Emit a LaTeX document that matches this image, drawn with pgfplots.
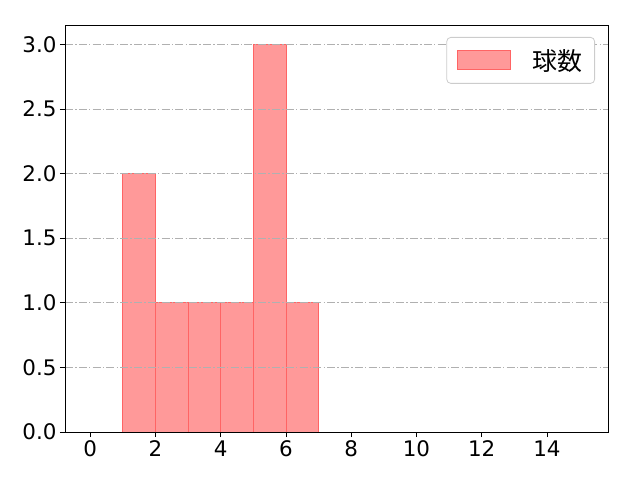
\documentclass[border=0pt]{standalone}
\usepackage{fontspec}
\setmainfont{Noto Sans CJK JP}
\newfontfamily\tickfont{DejaVu Sans}
\usepackage{pgfplots}
\pgfplotsset{compat=1.18}

\definecolor{barfill}{RGB}{255,153,153}
\definecolor{baredge}{RGB}{255,100,100}
\definecolor{gridgray}{RGB}{176,176,176}
\definecolor{legedge}{RGB}{204,204,204}

\begin{document}
\begin{tikzpicture}
\useasboundingbox (-65bp,-48bp) rectangle (575bp,432bp);
\begin{axis}[
    scale only axis,
    width=543bp, height=407bp,
    xmin=-0.77, xmax=15.87,
    ymin=0, ymax=3.15,
    xtick={0,2,...,14},
    ytick={0,0.5,...,3.0},
    yticklabel style={/pgf/number format/.cd,fixed,fixed zerofill,precision=1},
    /pgf/number format/assume math mode=true,
    tick label style={font=\tickfont\fontsize{21.5}{25}\selectfont, black},
    tick pos=left,
    tick align=outside,
    major tick length=5bp,
    tick style={black, line width=0.8pt},
    axis line style={line width=0.8pt},
    ymajorgrids,
    major grid style={gridgray, line width=0.8pt, dash pattern=on 8bp off 2.2bp on 1.4bp off 2.2bp},
    axis on top,
    legend style={at={(1,1)}, anchor=north east, xshift=-13bp, yshift=-12bp,
        draw=legedge, line width=0.8pt, rounded corners=4bp,
        inner sep=0pt, column sep=0pt, nodes={inner sep=0pt},
        font=\fontsize{25}{28}\selectfont},
    legend cell align=left,
    legend image code/.code={
        \path[draw=none, fill=none] (-11bp,-23bp) rectangle (75bp,23bp);
        \draw[#1, sharp corners] (0bp,-9.5bp) rectangle (53bp,9.5bp);},
]
\addplot[ybar interval, fill=barfill, draw=baredge, line width=0.8pt]
    coordinates {(1,2) (2,1) (3,1) (4,1) (5,3) (6,1) (7,1)};
\addlegendentry{球数\rule{12bp}{0pt}}
\end{axis}
\end{tikzpicture}
\end{document}
